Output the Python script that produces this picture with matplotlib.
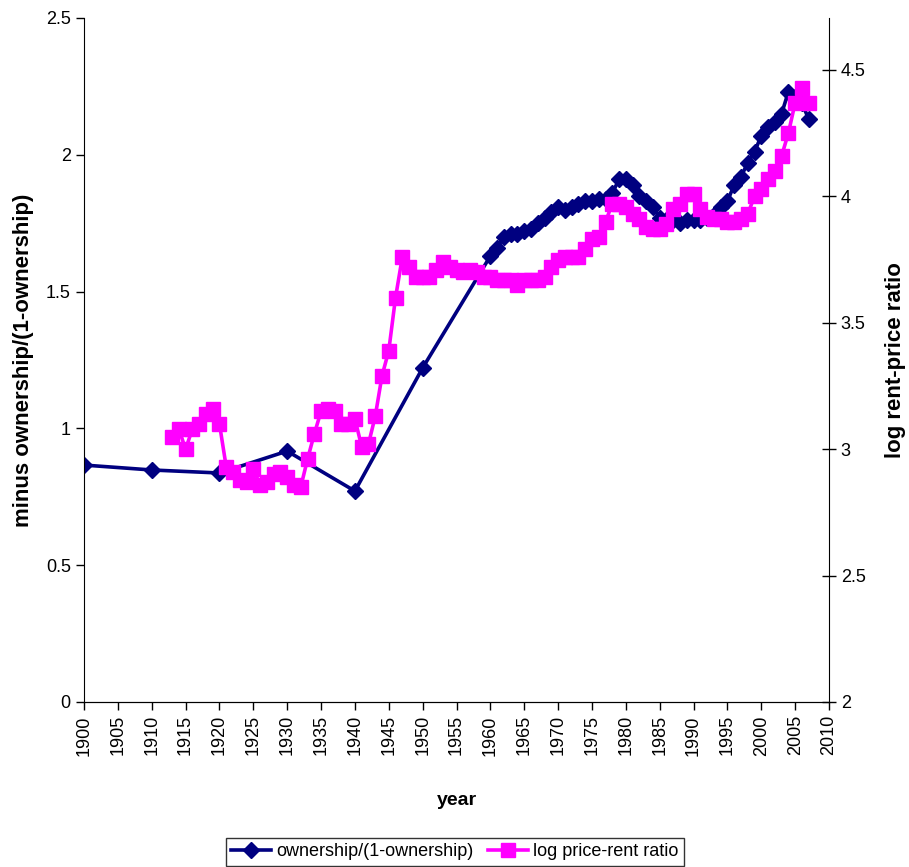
import matplotlib
matplotlib.use("Agg")
import matplotlib.pyplot as plt

# ============================================================
# data
# ============================================================
own_years = [1900, 1910, 1920, 1930, 1940, 1950] + list(range(1960, 2008))
own_vals = [
    0.866, 0.848, 0.837, 0.917, 0.771, 1.221,
    1.63, 1.66, 1.70, 1.71, 1.71, 1.72, 1.73, 1.75, 1.77, 1.79,   # 1960-69
    1.81, 1.80, 1.81, 1.82, 1.83, 1.83, 1.84, 1.84, 1.86, 1.91,   # 1970-79
    1.91, 1.89, 1.85, 1.83, 1.81, 1.77, 1.76, 1.76, 1.75, 1.76,   # 1980-89
    1.76, 1.76, 1.77, 1.78, 1.81, 1.83, 1.89, 1.92, 1.97, 2.01,   # 1990-99
    2.07, 2.10, 2.12, 2.15, 2.23, 2.21, 2.19, 2.13,               # 2000-07
]

pr_years = list(range(1913, 2008))
pr_vals = [
    3.05, 3.08, 3.00, 3.08, 3.10, 3.14, 3.16,                     # 1913-19
    3.10, 2.93, 2.91, 2.88, 2.87, 2.92, 2.86, 2.87, 2.90, 2.91,   # 1920-29
    2.89, 2.86, 2.85, 2.96, 3.06, 3.15, 3.16, 3.15, 3.10, 3.10,   # 1930-39
    3.12, 3.01, 3.02, 3.13, 3.29, 3.39, 3.60, 3.76, 3.72, 3.68,   # 1940-49
    3.68, 3.68, 3.71, 3.74, 3.72, 3.71, 3.70, 3.71, 3.70, 3.68,   # 1950-59
    3.68, 3.67, 3.67, 3.67, 3.65, 3.67, 3.67, 3.67, 3.68, 3.72,   # 1960-69
    3.75, 3.76, 3.76, 3.76, 3.79, 3.83, 3.84, 3.90, 3.97, 3.97,   # 1970-79
    3.96, 3.93, 3.91, 3.88, 3.87, 3.87, 3.89, 3.95, 3.97, 4.01,   # 1980-89
    4.01, 3.95, 3.92, 3.91, 3.91, 3.90, 3.90, 3.91, 3.93, 4.00,   # 1990-99
    4.03, 4.07, 4.10, 4.16, 4.25, 4.37, 4.43, 4.37,               # 2000-07
]

x_ticks = list(range(1900, 2011, 5))
left_ticks = [0, 0.5, 1, 1.5, 2, 2.5]
left_labels = ["0", "0.5", "1", "1.5", "2", "2.5"]
right_ticks = [2, 2.5, 3, 3.5, 4, 4.5]
right_labels = ["2", "2.5", "3", "3.5", "4", "4.5"]

NAVY = "#000080"
MAGENTA = "#FF00FF"

plt.rcParams["font.family"] = ["Liberation Sans", "DejaVu Sans"]
plt.rcParams["font.size"] = 13

# ============================================================
# figure
# ============================================================
fig = plt.figure(figsize=(9.09, 8.67), dpi=100)
ax = fig.add_axes([84 / 909, 1 - 702 / 867, (829 - 84) / 909, (702 - 18) / 867])

l1, = ax.plot(own_years, own_vals, color=NAVY, lw=2.6, marker="D", ms=8,
              mec=NAVY, mfc=NAVY, label="ownership/(1-ownership)")
ax.set_xlim(1900, 2010)
ax.set_ylim(0, 2.5)
ax.set_xticks(x_ticks)
ax.set_xticklabels([str(t) for t in x_ticks], rotation=90)
ax.set_yticks(left_ticks)
ax.set_yticklabels(left_labels)
ax.tick_params(axis="both", direction="out", length=6, width=1, labelsize=13)
ax.set_xlabel("year", fontweight="bold", fontsize=14, labelpad=26)
ax.set_ylabel("minus ownership/(1-ownership)", fontweight="bold", fontsize=16)
ax.yaxis.set_label_coords(-50 / 745, 0.5)
for s in ("top", "right"):
    ax.spines[s].set_visible(False)

ax2 = ax.twinx()
l2, = ax2.plot(pr_years, pr_vals, color=MAGENTA, lw=2.6, marker="s", ms=10,
               mec=MAGENTA, mfc=MAGENTA, label="log price-rent ratio")
ax2.set_ylim(2, 2 + (702 - 18) / 252.8)
ax2.set_yticks(right_ticks)
ax2.set_yticklabels(right_labels)
ax2.tick_params(axis="y", direction="inout", length=10, width=1, labelsize=13)
ax2.set_ylabel("log rent-price ratio", fontweight="bold", fontsize=16, labelpad=14)
ax2.spines["top"].set_visible(False)
ax2.spines["left"].set_visible(False)

leg = fig.legend(handles=[l1, l2], loc="lower center", bbox_to_anchor=(455 / 909, -0.009),
                 ncol=2, frameon=True, fancybox=False, edgecolor="black",
                 handlelength=2.2, handletextpad=0.3, columnspacing=0.8,
                 borderpad=0.3, fontsize=13)
leg.get_frame().set_linewidth(1)

fig.savefig("out.png", dpi=100)
